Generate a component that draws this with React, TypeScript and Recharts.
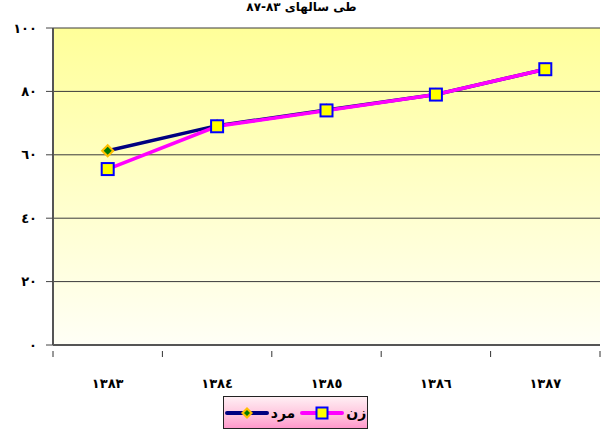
import React from "react";
import {
  LineChart,
  Line,
  XAxis,
  YAxis,
  CartesianGrid,
} from "recharts";

const CATEGORIES = ["١٣٨٣", "١٣٨٤", "١٣٨٥", "١٣٨٦", "١٣٨٧"];
const MEN = [61.3, 69.2, 74.1, 79.0, 87.0];
const WOMEN = [55.5, 69.0, 74.0, 79.0, 87.0];
const Y_TICKS = [0, 20, 40, 60, 80, 100];
const Y_TICK_LABELS = ["٠", "٢٠", "٤٠", "٦٠", "٨٠", "١٠٠"];
const SERIES_NAMES = { men: "مرد", women: "زن" };
const TITLE = "طی سالهای ٨٣-٨٧";

const data = CATEGORIES.map((year, i) => ({
  year,
  men: MEN[i],
  women: WOMEN[i],
}));

const FONT = "'DejaVu Sans', sans-serif";

function SquareDot(props: any) {
  const { cx, cy } = props;
  if (cx == null || cy == null) return null;
  return (
    <rect
      x={cx - 6}
      y={cy - 6}
      width={12}
      height={12}
      fill="#FFFF00"
      stroke="#0000FF"
      strokeWidth={2}
    />
  );
}

function DiamondDot(props: any) {
  const { cx, cy } = props;
  if (cx == null || cy == null) return null;
  return (
    <g>
      <path d={`M${cx},${cy - 7} L${cx + 7},${cy} L${cx},${cy + 7} L${cx - 7},${cy} Z`} fill="#FFC000" />
      <path d={`M${cx},${cy - 4} L${cx + 4},${cy} L${cx},${cy + 4} L${cx - 4},${cy} Z`} fill="#007A00" />
    </g>
  );
}

// category label at band centre, tick marks at band edges
function YearTick(props: any) {
  const { x, y, payload, index, visibleTicksCount } = props;
  const half = payload?.offset ?? 0;
  const top = y - 28;
  return (
    <g>
      <line x1={x - half} y1={top} x2={x - half} y2={top + 6} stroke="#333" strokeWidth={1} />
      {index === visibleTicksCount - 1 && (
        <line x1={x + half} y1={top} x2={x + half} y2={top + 6} stroke="#333" strokeWidth={1} />
      )}
      <text
        x={x}
        y={y}
        dy="0.71em"
        textAnchor="middle"
        fill="#000"
        fontSize={13}
        fontWeight="bold"
        fontFamily={FONT}
      >
        {payload.value}
      </text>
    </g>
  );
}

function LegendSample({ color, kind }: { color: string; kind: "square" | "diamond" }) {
  return (
    <svg width={44} height={14} style={{ display: "block" }}>
      <line x1={2} y1={7} x2={42} y2={7} stroke={color} strokeWidth={4} strokeLinecap="round" />
      {kind === "square" ? (
        <rect x={16.5} y={1.5} width={11} height={11} fill="#FFFF00" stroke="#0000FF" strokeWidth={2} />
      ) : (
        <g>
          <path d="M22,1 L28,7 L22,13 L16,7 Z" fill="#FFC000" />
          <path d="M22,4 L25,7 L22,10 L19,7 Z" fill="#007A00" />
        </g>
      )}
    </svg>
  );
}

export default function App() {
  return (
    <div
      style={{
        position: "absolute",
        left: 0,
        top: 0,
        width: 603,
        height: 432,
        overflow: "hidden",
        background: "#FFFFFF",
        fontFamily: FONT,
      }}
    >
      <div
        style={{
          position: "absolute",
          top: 0,
          left: 0,
          width: 603,
          textAlign: "center",
          fontSize: 12,
          lineHeight: "15px",
          fontWeight: "bold",
          direction: "rtl",
          color: "#000",
        }}
      >
        {TITLE}
      </div>

      <LineChart
        width={603}
        height={432}
        data={data}
        margin={{ top: 28, right: 3, bottom: 37, left: 0 }}
      >
        <defs>
          <linearGradient id="plotBg" x1="0" y1="0" x2="0" y2="1">
            <stop offset="0%" stopColor="#FFFF99" />
            <stop offset="100%" stopColor="#FFFFF6" />
          </linearGradient>
        </defs>
        <CartesianGrid
          vertical={false}
          fill="url(#plotBg)"
          stroke="#3A3A3A"
          strokeWidth={1}
        />
        <XAxis
          dataKey="year"
          scale="band"
          tickLine={false}
          axisLine={{ stroke: "#555", strokeWidth: 2 }}
          height={50}
          tickMargin={28}
          tick={<YearTick />}
        />
        <YAxis
          domain={[0, 100]}
          ticks={Y_TICKS}
          width={53}
          tickSize={7}
          tickMargin={9}
          tickLine={{ stroke: "#444", strokeWidth: 1 }}
          axisLine={{ stroke: "#555", strokeWidth: 2 }}
          tickFormatter={(v: number) => Y_TICK_LABELS[Y_TICKS.indexOf(v)]}
          tick={{ fill: "#000", fontSize: 13, fontWeight: "bold", fontFamily: FONT }}
        />
        <YAxis
          yAxisId="right"
          orientation="right"
          domain={[0, 100]}
          width={0}
          tick={false}
          tickLine={false}
          axisLine={{ stroke: "#888", strokeWidth: 1 }}
        />
        <Line
          dataKey="men"
          name={SERIES_NAMES.men}
          stroke="#000080"
          strokeWidth={3.5}
          dot={<DiamondDot />}
          activeDot={false}
          isAnimationActive={false}
        />
        <Line
          dataKey="women"
          name={SERIES_NAMES.women}
          stroke="#FF00FF"
          strokeWidth={3.5}
          dot={<SquareDot />}
          activeDot={false}
          isAnimationActive={false}
        />
      </LineChart>

      <div
        style={{
          position: "absolute",
          left: 223,
          top: 396,
          width: 143,
          height: 31,
          border: "1px solid #222",
          background: "linear-gradient(to bottom, #FFEFF4 0%, #FFC2DC 60%, #FF99CC 100%)",
          display: "flex",
          flexDirection: "row",
          direction: "rtl",
          alignItems: "center",
          justifyContent: "center",
          gap: 5,
          fontSize: 14,
          fontWeight: "bold",
          color: "#000",
        }}
      >
        <div style={{ display: "flex", alignItems: "center", gap: 2 }}>
          <span>{SERIES_NAMES.women}</span>
          <LegendSample color="#FF00FF" kind="square" />
        </div>
        <div style={{ display: "flex", alignItems: "center", gap: 2 }}>
          <span>{SERIES_NAMES.men}</span>
          <LegendSample color="#000080" kind="diamond" />
        </div>
      </div>
    </div>
  );
}
